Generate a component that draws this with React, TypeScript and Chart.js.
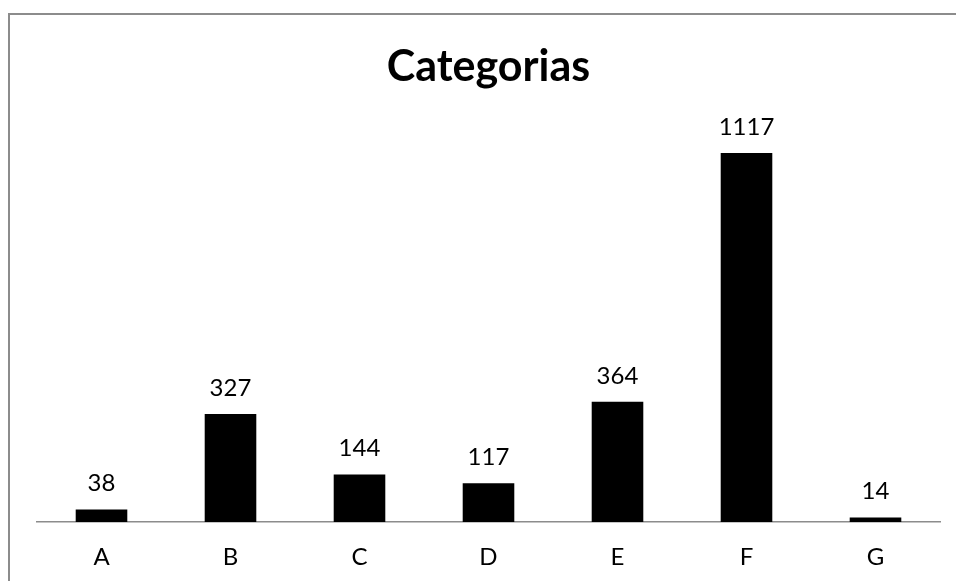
import React, { useEffect, useRef } from "react";
import { Chart, registerables } from "chart.js";

Chart.register(...registerables);

const categories: string[] = ["A", "B", "C", "D", "E", "F", "G"];
const values: number[] = [38, 327, 144, 117, 364, 1117, 14];
const chartTitle = "Categorias";
const yMax = 1200;

const FONT = "Lato, 'Open Sans', sans-serif";

const dataLabels = {
  id: "dataLabels",
  afterDatasetsDraw(chart: any) {
    const ctx = chart.ctx;
    const meta = chart.getDatasetMeta(0);
    ctx.save();
    ctx.fillStyle = "#000";
    ctx.font = `24px ${FONT}`;
    ctx.textAlign = "center";
    ctx.textBaseline = "alphabetic";
    meta.data.forEach((bar: any, i: number) => {
      ctx.fillText(String(values[i]), bar.x, bar.y - 18);
    });
    ctx.restore();
  },
};

export default function App() {
  const ref = useRef<HTMLCanvasElement | null>(null);
  useEffect(() => {
    if (!ref.current) return;
    const chart = new Chart(ref.current, {
      type: "bar",
      data: {
        labels: categories,
        datasets: [
          {
            data: values,
            backgroundColor: "#000",
            borderWidth: 0,
            categoryPercentage: 1,
            barPercentage: 0.4,
          },
        ],
      },
      options: {
        animation: false,
        responsive: false,
        maintainAspectRatio: false,
        layout: { padding: { left: 27, right: 16, top: 0, bottom: 0 } },
        plugins: {
          legend: { display: false },
          tooltip: { enabled: false },
          title: {
            display: true,
            text: chartTitle,
            color: "#000",
            font: { family: FONT, size: 43, weight: "bold" },
            padding: { top: 26, bottom: 33 },
          },
        },
        scales: {
          x: {
            grid: { display: false, drawTicks: false },
            border: { display: true, color: "#8c8c8c", width: 1.5 },
            ticks: { color: "#000", font: { family: FONT, size: 24 }, padding: 21 },
            afterFit: (s: any) => {
              s.height = 59;
            },
          },
          y: {
            display: false,
            min: 0,
            max: yMax,
          },
        },
      },
      plugins: [dataLabels],
    });
    return () => chart.destroy();
  }, []);
  return (
    <div
      style={{
        position: "fixed",
        left: 8,
        top: 13,
        width: 946,
        height: 566,
        borderLeft: "2px solid #8c8c8c",
        borderTop: "2px solid #8c8c8c",
        background: "#fff",
      }}
    >
      <canvas ref={ref} width={946} height={566} style={{ display: "block" }} />
    </div>
  );
}
